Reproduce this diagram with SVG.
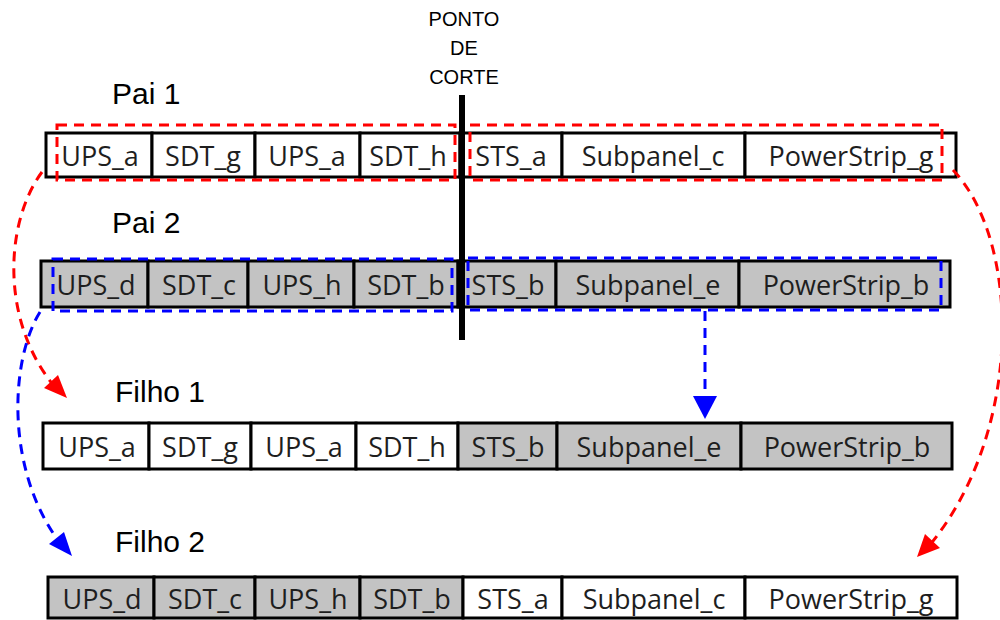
<svg xmlns="http://www.w3.org/2000/svg" width="1000" height="620" viewBox="0 0 1000 620">
<defs>
<style>
.lbl{font-family:"Liberation Sans",Arial,sans-serif;font-size:30px;fill:#000}
.cut{font-family:"Liberation Sans",Arial,sans-serif;font-size:20px;fill:#000;text-anchor:middle}
.cell{stroke:#000;stroke-width:3}
.w{fill:#fff}
.g{fill:#c3c3c3}
.t{font-family:"Open Sans","Noto Sans",sans-serif;font-size:27px;fill:#1e1e1e;text-anchor:middle}
.rd{fill:none;stroke:#ff0000;stroke-width:3;stroke-dasharray:10 7}
.bd{fill:none;stroke:#0000ff;stroke-width:3;stroke-dasharray:10 7}
</style>
</defs>
<rect width="1000" height="620" fill="#fff"/>

<g id="cut-label">
<text class="cut" x="464" y="26">PONTO</text>
<text class="cut" x="464" y="55">DE</text>
<text class="cut" x="464" y="84">CORTE</text>
</g>

<g id="labels">
<text class="lbl" x="112" y="104">Pai 1</text>
<text class="lbl" x="112" y="233">Pai 2</text>
<text class="lbl" x="115" y="402">Filho 1</text>
<text class="lbl" x="115" y="552">Filho 2</text>
</g>

<g id="pai1">
<rect class="cell w" x="46" y="133" width="106" height="44"/>
<rect class="cell w" x="152" y="133" width="103" height="44"/>
<rect class="cell w" x="255" y="133" width="105" height="44"/>
<rect class="cell w" x="360" y="133" width="100" height="44"/>
<rect class="cell w" x="460" y="133" width="102" height="44"/>
<rect class="cell w" x="562" y="133" width="183" height="44"/>
<rect class="cell w" x="745" y="133" width="211" height="44"/>
<text class="t" x="100" y="166">UPS_a</text>
<text class="t" x="203" y="166">SDT_g</text>
<text class="t" x="307" y="166">UPS_a</text>
<text class="t" x="408" y="166">SDT_h</text>
<text class="t" x="511" y="166">STS_a</text>
<text class="t" x="653" y="166">Subpanel_c</text>
<text class="t" x="851" y="166">PowerStrip_g</text>
</g>

<g id="pai2">
<rect class="cell g" x="41" y="261" width="107" height="46"/>
<rect class="cell g" x="148" y="261" width="100" height="46"/>
<rect class="cell g" x="248" y="261" width="106" height="46"/>
<rect class="cell g" x="354" y="261" width="104" height="46"/>
<rect class="cell g" x="458" y="261" width="98" height="46"/>
<rect class="cell g" x="556" y="261" width="183" height="46"/>
<rect class="cell g" x="739" y="261" width="211" height="46"/>
<text class="t" x="96" y="295">UPS_d</text>
<text class="t" x="199" y="295">SDT_c</text>
<text class="t" x="302" y="295">UPS_h</text>
<text class="t" x="406" y="295">SDT_b</text>
<text class="t" x="508" y="295">STS_b</text>
<text class="t" x="648" y="295">Subpanel_e</text>
<text class="t" x="846" y="295">PowerStrip_b</text>
</g>

<g id="filho1">
<rect class="cell w" x="43" y="423" width="106" height="46"/>
<rect class="cell w" x="149" y="423" width="102" height="46"/>
<rect class="cell w" x="251" y="423" width="105" height="46"/>
<rect class="cell w" x="356" y="423" width="102" height="46"/>
<rect class="cell g" x="458" y="423" width="99" height="46"/>
<rect class="cell g" x="557" y="423" width="184" height="46"/>
<rect class="cell g" x="741" y="423" width="211" height="46"/>
<text class="t" x="97" y="457">UPS_a</text>
<text class="t" x="200" y="457">SDT_g</text>
<text class="t" x="304" y="457">UPS_a</text>
<text class="t" x="407" y="457">SDT_h</text>
<text class="t" x="508" y="457">STS_b</text>
<text class="t" x="649" y="457">Subpanel_e</text>
<text class="t" x="847" y="457">PowerStrip_b</text>
</g>

<g id="filho2">
<rect class="cell g" x="48" y="577" width="106" height="41"/>
<rect class="cell g" x="154" y="577" width="101" height="41"/>
<rect class="cell g" x="255" y="577" width="105" height="41"/>
<rect class="cell g" x="360" y="577" width="103" height="41"/>
<rect class="cell w" x="463" y="577" width="99" height="41"/>
<rect class="cell w" x="562" y="577" width="183" height="41"/>
<rect class="cell w" x="745" y="577" width="212" height="41"/>
<text class="t" x="102" y="609">UPS_d</text>
<text class="t" x="205" y="609">SDT_c</text>
<text class="t" x="308" y="609">UPS_h</text>
<text class="t" x="412" y="609">SDT_b</text>
<text class="t" x="513" y="609">STS_a</text>
<text class="t" x="654" y="609">Subpanel_c</text>
<text class="t" x="851" y="609">PowerStrip_g</text>
</g>

<g id="cut-line">
<line x1="462" y1="95" x2="462" y2="340" stroke="#000" stroke-width="6"/>
</g>

<g id="selections">
<rect class="rd" x="57" y="125" width="398" height="55"/>
<rect class="rd" x="470" y="125" width="472" height="55"/>
<rect class="bd" x="53" y="259" width="399" height="52"/>
<rect class="bd" x="468" y="258" width="473" height="52"/>
</g>

<g id="connectors">
<path class="rd" d="M42,172 C5,222 0,320 54,386"/>
<path d="M67,398 L44,388 L58,375 z" fill="#ff0000"/>
<path class="bd" d="M40,312 C10,360 5,470 60,543"/>
<path d="M72,556 L49,544 L64,532 z" fill="#0000ff"/>
<path class="bd" d="M705,311 L705,396"/>
<path d="M705,419 L693,396 L717,396 z" fill="#0000ff"/>
<path class="rd" d="M953,170 C1020,240 1025,430 929,546"/>
<path d="M917,557 L925,534 L940,548 z" fill="#ff0000"/>
</g>
</svg>
